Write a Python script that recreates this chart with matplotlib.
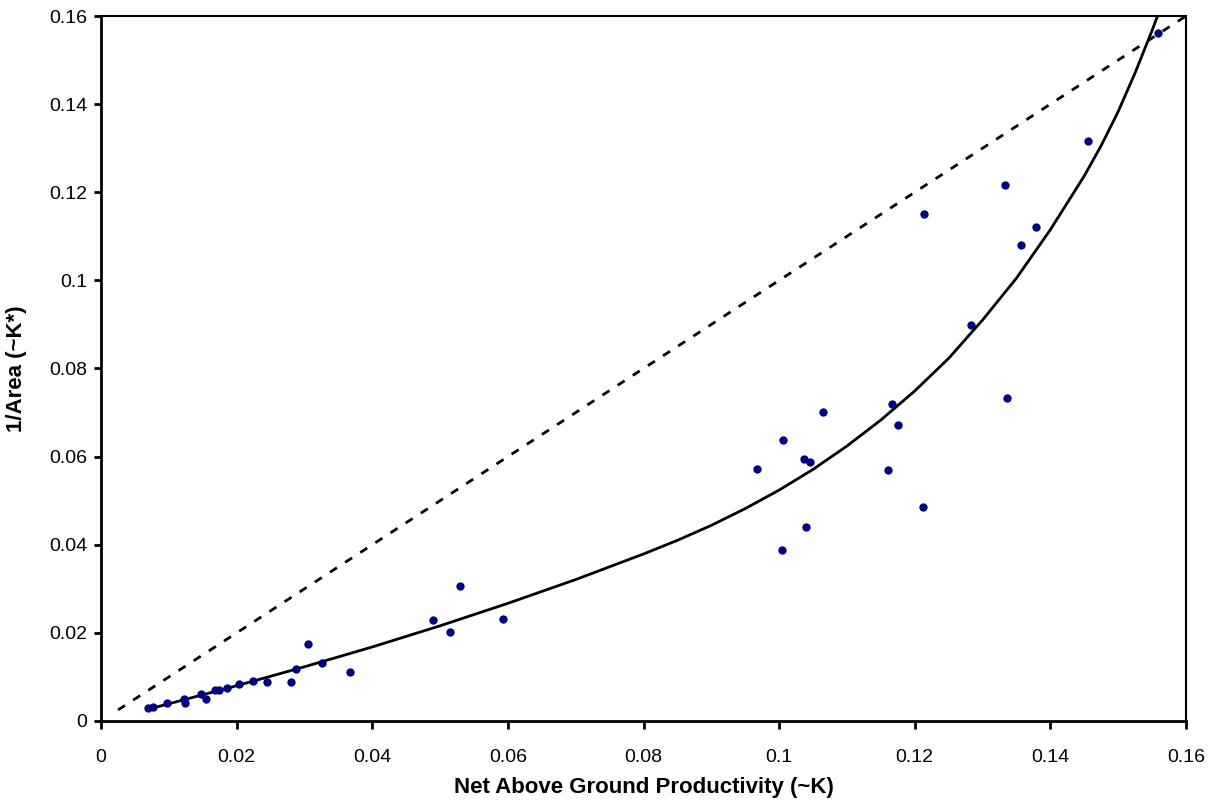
import matplotlib
matplotlib.use('Agg')
import matplotlib.pyplot as plt

plt.rcParams['font.family'] = ['Liberation Sans', 'DejaVu Sans']

# --------------------------------------------------------------------------------
# observed points: Net Above Ground Productivity (~K) vs 1/Area (~K*)
# --------------------------------------------------------------------------------
obs_x = [0.0069, 0.0077, 0.0097, 0.0122, 0.0124, 0.0147, 0.0155, 0.0168, 0.0174,
         0.0186, 0.0204, 0.0224, 0.0245, 0.0280, 0.0288, 0.0305, 0.0326, 0.0367,
         0.0490, 0.0515, 0.0529, 0.0593,
         0.0968, 0.1004, 0.1006, 0.1037, 0.1039, 0.1046, 0.1065, 0.1161, 0.1166,
         0.1175, 0.1212, 0.1213, 0.1283, 0.1333, 0.1336, 0.1356, 0.1379, 0.1455,
         0.1559]
obs_y = [0.0030, 0.0032, 0.0041, 0.0050, 0.0041, 0.0061, 0.0050, 0.0070, 0.0070,
         0.0075, 0.0084, 0.0091, 0.0089, 0.0089, 0.0118, 0.0175, 0.0132, 0.0111,
         0.0229, 0.0202, 0.0306, 0.0231,
         0.0572, 0.0387, 0.0638, 0.0595, 0.0440, 0.0588, 0.0701, 0.0569, 0.0720,
         0.0671, 0.0486, 0.1151, 0.0899, 0.1216, 0.0732, 0.1080, 0.1122, 0.1317,
         0.1561]

# fitted curve
fit_x = [0.0070, 0.0100, 0.0200, 0.0300, 0.0400, 0.0500, 0.0600, 0.0700, 0.0800,
         0.0850, 0.0900, 0.0950, 0.1000, 0.1050, 0.1100, 0.1150, 0.1200, 0.1250,
         0.1300, 0.1350, 0.1400, 0.1450, 0.1475, 0.1500, 0.1525, 0.1550, 0.1558]
fit_y = [0.0027, 0.0039, 0.0080, 0.0123, 0.0168, 0.0216, 0.0267, 0.0321, 0.0379,
         0.0410, 0.0444, 0.0482, 0.0524, 0.0571, 0.0624, 0.0683, 0.0749, 0.0823,
         0.0910, 0.1005, 0.1115, 0.1237, 0.1306, 0.1383, 0.1471, 0.1567, 0.1600]

# 1:1 line
one_x = [0.0025, 0.16]
one_y = [0.0025, 0.16]

ticks = [0, 0.02, 0.04, 0.06, 0.08, 0.1, 0.12, 0.14, 0.16]
tick_labels = ['0', '0.02', '0.04', '0.06', '0.08', '0.1', '0.12', '0.14', '0.16']

fig = plt.figure(figsize=(12.16, 8.09), dpi=100)
ax = fig.add_axes([0.0831, 0.1088, 0.8922, 0.8714])

ax.plot(one_x, one_y, color='black', linewidth=2, linestyle=(0, (3, 3.5)))
ax.plot(fit_x, fit_y, color='black', linewidth=2, solid_joinstyle='round')
ax.plot(obs_x, obs_y, linestyle='none', marker='o', markersize=6,
        color='#000080', markeredgewidth=0)

ax.set_xlim(0, 0.16)
ax.set_ylim(0, 0.16)
ax.set_xticks(ticks)
ax.set_xticklabels(tick_labels)
ax.set_yticks(ticks)
ax.set_yticklabels(tick_labels)
ax.tick_params(axis='x', direction='out', length=6, width=2, labelsize=14, pad=14)
ax.tick_params(axis='y', direction='out', length=5, width=2, labelsize=14, pad=5)

for side in ['left', 'bottom']:
    ax.spines[side].set_linewidth(2)
for side in ['top', 'right']:
    ax.spines[side].set_linewidth(1.5)

ax.set_xlabel('Net Above Ground Productivity (~K)', fontsize=16, fontweight='bold', labelpad=8)
ax.set_ylabel('1/Area (~K*)', fontsize=16, fontweight='bold', labelpad=16)

fig.savefig('out.png', dpi=100)
